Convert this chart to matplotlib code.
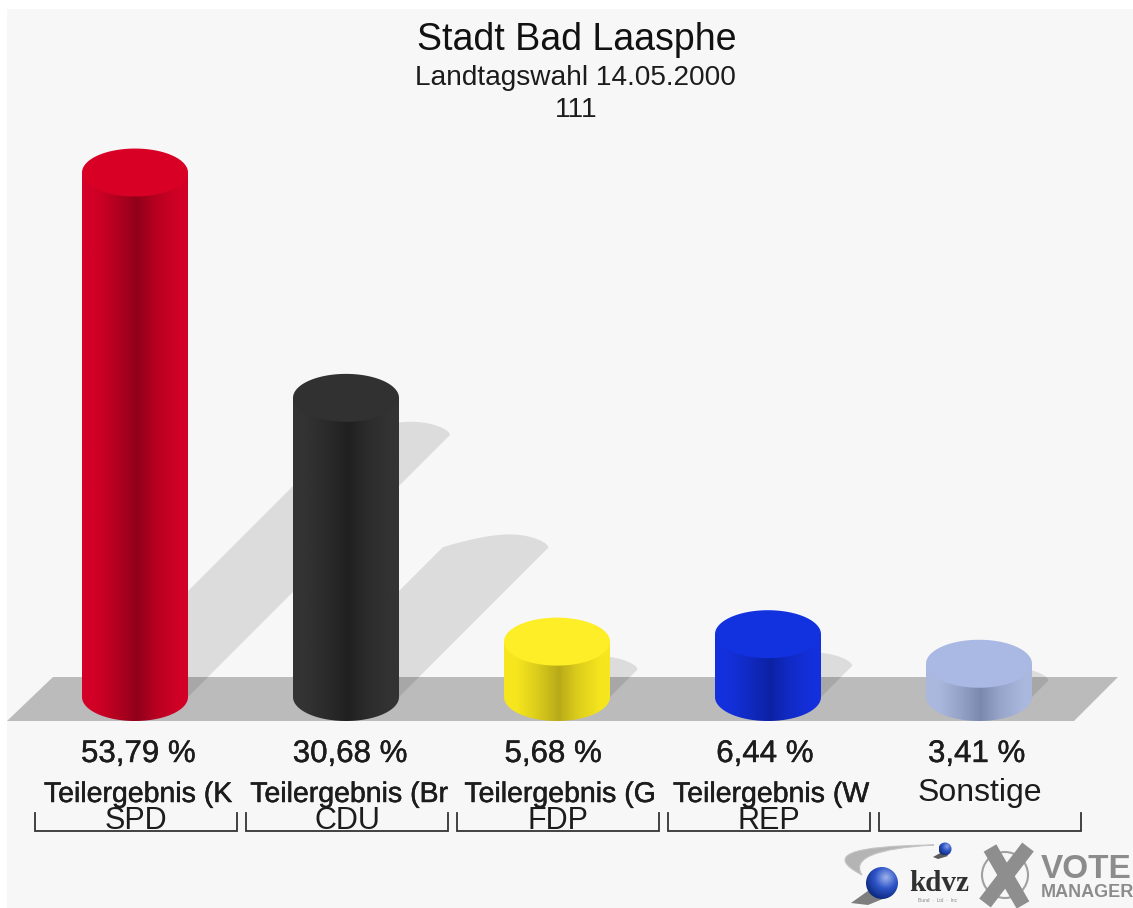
"""Stadt Bad Laasphe, Landtagswahl 2000: cylinder bars in the VoteManager look."""

import matplotlib

matplotlib.use("Agg")
import matplotlib.patheffects as pe
import matplotlib.pyplot as plt
import numpy as np
from matplotlib.colors import LinearSegmentedColormap, to_rgb
from matplotlib.patches import Circle, PathPatch, Polygon, Rectangle
from matplotlib.path import Path
from matplotlib.transforms import Affine2D

WIDTH, HEIGHT = 1133, 908

TITLE = "Stadt Bad Laasphe"
SUBTITLE = "Landtagswahl 14.05.2000"
DISTRICT = "111"
PARTIES = ["SPD", "CDU", "FDP", "REP", "Sonstige"]
VALUES = [53.79, 30.68, 5.68, 6.44, 3.41]
SUB_LABELS = ["Teilergebnis (K", "Teilergebnis (Br", "Teilergebnis (G", "Teilergebnis (W", ""]

# edge, centre, top cap
BAR_COLORS = [
    ("#d20026", "#90001a", "#d80024"),
    ("#333333", "#202020", "#313131"),
    ("#f6e61e", "#b8aa18", "#fdee28"),
    ("#1430dc", "#0c22a4", "#1232e0"),
    ("#aab8de", "#7c89ae", "#a9b9e3"),
]

BG = "#f7f7f7"
FLOOR = "#bbbbbb"
TEXT = "#1c1c1c"
FONT = "Liberation Sans"

# pixel geometry of the plot, mapped onto the data scales below
X0_PX, X_STEP_PX = 135.0, 211.0
BASE_PX, Y_SCALE_PX = 697.0, 9.75
RX = 53.0 / X_STEP_PX
RY = 24.0 / Y_SCALE_PX


def draw_shadow(ax, x, value):
    # 45 degree parallelogram from the bar foot, half as long as the bar, with a lopsided arc on top
    dx = 0.5 * value * Y_SCALE_PX / X_STEP_PX
    dy = 0.5 * value
    s = np.linspace(0, 1, 60)
    arc_x = x + dx - RX + 2 * RX * s
    arc_y = dy + (13.0 / Y_SCALE_PX) * np.sin(np.pi * s**1.5) ** 0.6
    outline = np.vstack([[[x - RX, 0]], np.column_stack([arc_x, arc_y]), [[x + RX, 0]]])
    ax.add_patch(Polygon(outline, closed=True, fc="black", ec="none", alpha=0.105, zorder=2))


def body_cmap(edge, centre):
    edge_rgb, centre_rgb = np.array(to_rgb(edge)), np.array(to_rgb(centre))
    mid = tuple(0.6 * edge_rgb + 0.4 * centre_rgb)
    stops = [(0, edge), (0.12, edge), (0.3, mid), (0.52, centre), (0.7, mid), (0.92, edge), (1, edge)]
    return LinearSegmentedColormap.from_list("body", stops)


def draw_cylinder(ax, x, value, colors):
    edge, centre, cap = colors
    t = np.linspace(np.pi, 2 * np.pi, 60)
    body = np.vstack([
        [[x - RX, value], [x - RX, 0]],
        np.column_stack([x + RX * np.cos(t), RY * np.sin(t)]),
        [[x + RX, value]],
    ])
    im = ax.imshow(
        np.linspace(0, 1, 256).reshape(1, -1),
        extent=(x - RX, x + RX, -RY, value),
        cmap=body_cmap(edge, centre),
        aspect="auto",
        zorder=3,
        interpolation="bilinear",
    )
    im.set_clip_path(Polygon(body, closed=True, transform=ax.transData))

    t = np.linspace(0, 2 * np.pi, 120)
    top = np.column_stack([x + RX * np.cos(t), value + RY * np.sin(t)])
    ax.add_patch(Polygon(top, closed=True, fc=cap, ec="none", zorder=4))


def draw_sphere(ax, px, cx, cy, r, light, dark):
    yy, xx = np.mgrid[-1:1:80j, -1:1:80j]
    dist = np.clip(np.hypot(xx - 0.25, yy + 0.35) / 1.4, 0, 1)
    cmap = LinearSegmentedColormap.from_list("sphere", [light, "#2f55c8", dark])
    im = ax.imshow(dist, extent=(cx - r, cx + r, cy + r, cy - r), cmap=cmap, vmin=0, vmax=1,
                   aspect="auto", transform=px, zorder=6)
    im.set_clip_path(Circle((cx, cy), r, transform=px))


def draw_logo(ax, px):
    verts = [(862, 875), (806, 846), (934, 845), (846, 850), (862, 875)]
    codes = [Path.MOVETO, Path.CURVE3, Path.CURVE3, Path.CURVE3, Path.CURVE3]
    ax.add_patch(PathPatch(Path(verts, codes), fc="#b4b4b4", ec="#c4c4c4", lw=0.8, transform=px, zorder=5))

    # drop shadows under the two spheres
    ax.add_patch(Polygon([(851, 903), (872, 888), (890, 896), (868, 905)], fc="#555555", ec="none",
                         alpha=0.75, transform=px, zorder=5))
    ax.add_patch(Polygon([(933, 857), (944, 851), (948, 856), (938, 859)], fc="#333333", ec="none",
                         alpha=0.8, transform=px, zorder=5))
    draw_sphere(ax, px, 882, 883, 16, "#9fb4ea", "#0d2a80")
    draw_sphere(ax, px, 945, 849, 6.5, "#8aa2e4", "#12307f")

    ax.text(939, 891, "kdvz", family="Liberation Serif", weight="bold", fontsize=21, color="#303030",
            ha="center", va="baseline", transform=px, zorder=6)
    ax.text(938, 902, "Bund  ·  Ltd  ·  Inc", family=FONT, fontsize=3.5, color="#888888",
            ha="center", va="baseline", transform=px, zorder=6)

    ax.add_patch(Circle((1005, 875), 23, fc="none", ec="#a0a0a0", lw=1.5, transform=px, zorder=5))
    ax.plot([990, 1023], [848, 905], color="#8e8e8e", lw=10.5, solid_capstyle="butt", transform=px, zorder=6)
    ax.plot([1028, 985], [847, 903], color="#8e8e8e", lw=10.5, solid_capstyle="butt", transform=px, zorder=6)

    ax.text(1041, 878, "VOTE", family=FONT, weight="bold", fontsize=24, color="#8c8c8c",
            ha="left", va="baseline", transform=px, zorder=6)
    ax.text(1041, 897, "MANAGER", family=FONT, weight="bold", fontsize=13, color="#8c8c8c",
            ha="left", va="baseline", transform=px, zorder=6)


def set_limits(ax):
    ax.set_xlim((0 - X0_PX) / X_STEP_PX, (WIDTH - X0_PX) / X_STEP_PX)
    ax.set_ylim((BASE_PX - HEIGHT) / Y_SCALE_PX, BASE_PX / Y_SCALE_PX)


def main():
    plt.rcParams["font.family"] = [FONT, "DejaVu Sans"]
    fig = plt.figure(figsize=(WIDTH / 100, HEIGHT / 100), dpi=100, facecolor="white")
    ax = fig.add_axes([0, 0, 1, 1])
    ax.set_axis_off()

    # top-left pixel coordinates for everything that is not a bar
    px = Affine2D().scale(1 / WIDTH, -1 / HEIGHT).translate(0, 1) + ax.transAxes

    ax.add_patch(Rectangle((7, 9), WIDTH, HEIGHT, fc=BG, ec="none", transform=px, zorder=0))
    ax.add_patch(Polygon([(53, 677), (1118, 677), (1074, 721), (7, 721)], closed=True, fc=FLOOR, ec="none",
                         transform=px, zorder=1))

    positions = np.arange(len(VALUES))
    for x, value in zip(positions, VALUES):
        draw_shadow(ax, x, value)
    for x, value, colors in zip(positions, VALUES, BAR_COLORS):
        draw_cylinder(ax, x, value, colors)
    set_limits(ax)

    ax.text(576.5, 50, TITLE, fontsize=27, color="#111111", ha="center", va="baseline", transform=px)
    ax.text(575, 85, SUBTITLE, fontsize=20.2, color=TEXT, ha="center", va="baseline", transform=px)
    ax.text(576.5, 117, DISTRICT, fontsize=20.2, color=TEXT, ha="center", va="baseline", transform=px)

    semi_bold = [pe.withStroke(linewidth=0.35, foreground=TEXT)]
    for i, (party, value, sub) in enumerate(zip(PARTIES, VALUES, SUB_LABELS)):
        cx = X0_PX + i * X_STEP_PX
        label = f"{value:.2f}".replace(".", ",") + " %"
        ax.text(81 + i * 211.75, 762, label, fontsize=22.5, color=TEXT, ha="left", va="baseline",
                transform=px, path_effects=[pe.withStroke(linewidth=0.3, foreground=TEXT)])
        left, right = cx - 100, cx + 102
        ax.plot([left, left, right, right], [813, 831, 831, 813], color="#333333", lw=1.3,
                solid_joinstyle="miter", transform=px, zorder=5)
        if sub:
            ax.text(cx + 3, 802, sub, fontsize=20.5, color=TEXT, ha="center", va="baseline",
                    transform=px, path_effects=semi_bold)
            ax.text(cx + 1, 829, party, fontsize=22, color=TEXT, ha="center", va="baseline", transform=px, zorder=6)
        else:
            ax.text(cx + 1, 801, party, fontsize=23, color=TEXT, ha="center", va="baseline", transform=px)

    draw_logo(ax, px)
    set_limits(ax)

    fig.savefig("out.png", dpi=100, facecolor="white")
    plt.close(fig)


if __name__ == "__main__":
    main()
